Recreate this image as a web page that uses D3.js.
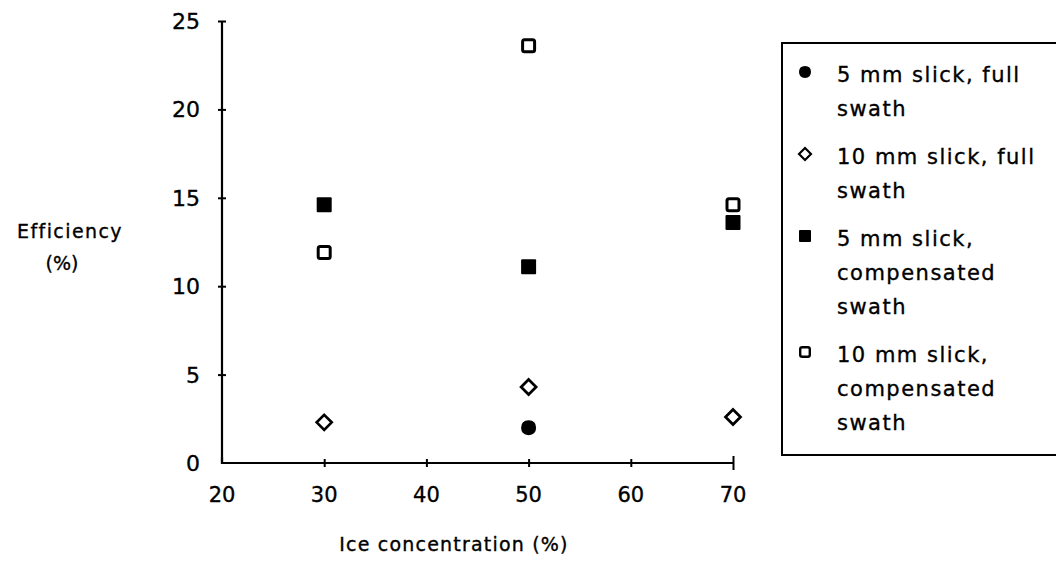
<!DOCTYPE html>
<html>
<head>
<meta charset="utf-8">
<script src="https://cdn.jsdelivr.net/npm/d3@7"></script>
<style>
  html, body { margin: 0; padding: 0; background: #fff; }
  svg { display: block; }
  text { font-family: "DejaVu Sans", sans-serif; fill: #000; stroke: #000; stroke-width: 0.35; }
</style>
</head>
<body>
<svg id="chart" width="1056" height="563"></svg>
<script>
// Ice concentration (%) on the x axis
const iceConcentration = [30, 50, 70];

// Efficiency (%) for each test condition; null = no measurement
const slick5Full = [null, 2.0, null];
const slick10Full = [2.3, 4.3, 2.6];
const slick5Comp = [14.6, 11.1, 13.6];
const slick10Comp = [11.9, 23.6, 14.6];

const xTicks = [20, 30, 40, 50, 60, 70];
const yTicks = [0, 5, 10, 15, 20, 25];

const series = [
  { lines: ["5 mm slick, full", "swath"], values: slick5Full, symbol: "circle", filled: true },
  { lines: ["10 mm slick, full", "swath"], values: slick10Full, symbol: "diamond", filled: false },
  { lines: ["5 mm slick,", "compensated", "swath"], values: slick5Comp, symbol: "square", filled: true },
  { lines: ["10 mm slick,", "compensated", "swath"], values: slick10Comp, symbol: "square", filled: false }
];

const svg = d3.select("#chart");
const x = d3.scaleLinear().domain([20, 70]).range([222, 733]);
const y = d3.scaleLinear().domain([0, 25]).range([463, 21]);

// axes with ticks crossing the line on both sides
const xAxis = svg.append("g").attr("transform", `translate(0,${y(0)})`)
  .call(d3.axisBottom(x).tickValues(xTicks.slice(1)).tickSize(0).tickFormat(""));
xAxis.select(".domain").attr("stroke", "#000").attr("stroke-width", 2.2).attr("d", `M${x(20)},-6V0H${x(70)}`);
xAxis.selectAll(".tick line").attr("y1", -4).attr("y2", 4).attr("stroke", "#000").attr("stroke-width", 2);
xAxis.selectAll(".tick").filter(d => d === 70).select("line").attr("y1", -7).attr("y2", 7);

const yAxis = svg.append("g").attr("transform", `translate(${x(20)},0)`)
  .call(d3.axisLeft(y).tickValues(yTicks.slice(1)).tickSize(0).tickFormat(""));
yAxis.select(".domain").attr("stroke", "#000").attr("stroke-width", 2.2).attr("d", `M0,${y(25)}V${y(0)}`);
yAxis.selectAll(".tick line").attr("x1", -4).attr("x2", 4).attr("stroke", "#000").attr("stroke-width", 2);

// tick labels
svg.append("g").selectAll("text").data(xTicks).join("text")
  .attr("x", d => x(d)).attr("y", 502)
  .attr("text-anchor", "middle").attr("font-size", 21)
  .text(d => d);

svg.append("g").selectAll("text").data(yTicks).join("text")
  .attr("x", 200).attr("y", d => y(d) + 8)
  .attr("text-anchor", "end").attr("font-size", 22)
  .text(d => d);

// axis titles
svg.append("text").attr("x", 454).attr("y", 551).attr("text-anchor", "middle")
  .attr("font-size", 19).attr("letter-spacing", 1.2).text("Ice concentration (%)");
svg.append("text").attr("x", 70).attr("y", 238).attr("text-anchor", "middle")
  .attr("font-size", 19).attr("letter-spacing", 1.4).text("Efficiency");
svg.append("text").attr("x", 62).attr("y", 270).attr("text-anchor", "middle")
  .attr("font-size", 19).text("(%)");

// marker drawing
function drawMarker(g, symbol, filled, size) {
  const h = size / 2;
  if (symbol === "square") {
    const sw = filled ? 0 : Math.max(2, size * 0.2);
    g.append("rect")
      .attr("x", -h + sw / 2).attr("y", -h + sw / 2)
      .attr("width", size - sw).attr("height", size - sw)
      .attr("rx", filled ? 1 : 2)
      .attr("fill", filled ? "#000" : "#fff")
      .attr("stroke", "#000").attr("stroke-width", sw);
  } else if (symbol === "diamond") {
    const r = h;
    g.append("path")
      .attr("d", `M0,${-r}Q${r * 0.25},${-r * 0.75} ${r},0Q${r * 0.25},${r * 0.75} 0,${r}Q${-r * 0.25},${r * 0.75} ${-r},0Q${-r * 0.25},${-r * 0.75} 0,${-r}Z`)
      .attr("fill", "#fff").attr("stroke", "#000").attr("stroke-width", Math.max(2, size * 0.18));
  } else {
    g.append("path")
      .attr("d", `M0,${-h}Q${h},${-h} ${h},0Q${h},${h * 0.9} 0,${h}Q${-h},${h * 0.9} ${-h},0Q${-h},${-h} 0,${-h}Z`)
      .attr("fill", "#000");
  }
}

// data points
series.forEach(s => {
  iceConcentration.forEach((c, i) => {
    const v = s.values[i];
    if (v == null) return;
    const g = svg.append("g").attr("transform", `translate(${x(c)},${y(v)})`);
    drawMarker(g, s.symbol, s.filled, 15);
  });
});

// legend
const legend = svg.append("g");
legend.append("rect").attr("x", 782).attr("y", 43).attr("width", 300).attr("height", 412)
  .attr("fill", "none").attr("stroke", "#000").attr("stroke-width", 2);

const lineH = 34, itemGap = 48;
let ly = 74;
series.forEach(s => {
  const m = legend.append("g").attr("transform", `translate(805,${ly - 2})`);
  drawMarker(m, s.symbol, s.filled, 12);
  s.lines.forEach((t, j) => {
    legend.append("text").attr("x", 837).attr("y", ly + j * lineH + 8)
      .attr("font-size", 21).attr("letter-spacing", 1.5).text(t);
  });
  ly += (s.lines.length - 1) * lineH + itemGap;
});
</script>
</body>
</html>
